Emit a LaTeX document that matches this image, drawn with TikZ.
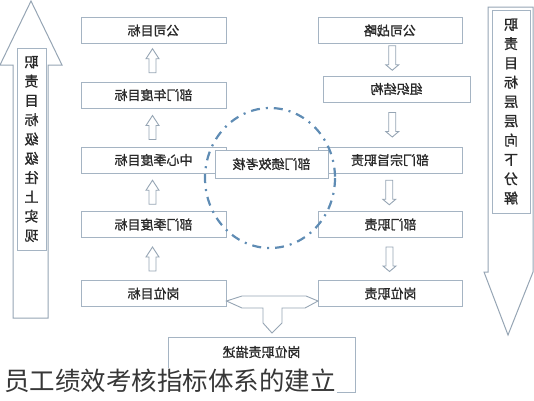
\documentclass[tikz,border=0pt]{standalone}
\usepackage{fontspec}
\usepackage{graphicx}
\newfontfamily\cjk{Noto Sans CJK SC}
\newfontfamily\cjkb[FakeBold=1.2]{Noto Sans CJK SC}
\usetikzlibrary{calc}
\definecolor{boxline}{RGB}{165,180,195}
\definecolor{arrline}{RGB}{150,165,180}
\definecolor{txt}{RGB}{40,40,40}
\definecolor{captxt}{RGB}{55,55,55}
\definecolor{ringblue}{RGB}{95,140,180}
\newcommand{\vstack}[1]{\reflectbox{\parbox{16pt}{\centering\fontsize{14}{19.3}\selectfont #1}}}
\begin{document}
\begin{tikzpicture}[x=1pt,y=-1pt,
  box/.style={draw=boxline, line width=1pt, fill=white, minimum height=26pt,
    inner sep=0pt, font=\cjkb\fontsize{13}{13}\selectfont, text=txt},
  lbox/.style={box, minimum width=145pt},
  rbox/.style={box, minimum width=144pt},
  bigarrow/.style={draw=arrline, line width=1pt, fill=white},
  vtext/.style={draw=boxline, line width=1pt, fill=white, inner sep=0pt,
    text=txt, font=\cjkb},
  blockarr/.style={draw=arrline, line width=0.9pt, fill=white},
  uparr/.pic={\draw[blockarr] (-3.5,12) -- (-3.5,-2) -- (-6.5,-2) -- (0,-12) -- (6.5,-2) -- (3.5,-2) -- (3.5,12) -- cycle;},
  downarr/.pic={\draw[blockarr] (-3.5,-12) -- (-3.5,7) -- (-6.5,7) -- (0,12.5) -- (6.5,7) -- (3.5,7) -- (3.5,-12) -- cycle;}
]
\useasboundingbox (0,0) rectangle (534,400);

% left big up arrow
\draw[bigarrow] (13,318) -- (13,65) -- (0,65) -- (31,1) -- (62,65) -- (48,65) -- (48,318) -- cycle;
\node[vtext, minimum width=29pt, minimum height=202pt] (lv) at (31.5,149) {\vstack{职\\责\\目\\标\\级\\级\\往\\上\\实\\现}};

% right big down arrow
\draw[bigarrow] (488,7) -- (488,272) -- (484,272) -- (508,335) -- (533,272) -- (533,7) -- cycle;
\node[vtext, minimum width=38pt, minimum height=203pt] (rv) at (511,111.5) {\vstack{职\\责\\目\\标\\层\\层\\向\\下\\分\\解}};

% left column
\node[lbox] (l1) at (153.5,30.5) {\reflectbox{公司目标}};
\node[lbox] (l2) at (153.5,95) {\reflectbox{部门年度目标}};
\node[lbox] (l3) at (153.5,160) {\reflectbox{中心季度目标}};
\node[lbox] (l4) at (153.5,224.5) {\reflectbox{部门季度目标}};
\node[lbox] (l5) at (153.5,293.5) {\reflectbox{岗位目标}};

% right column
\node[rbox] (r1) at (390,30.5) {\reflectbox{公司战略}};
\node[box, minimum width=147pt] (r2) at (396.5,89) {\reflectbox{组织结构}};
\node[rbox] (r3) at (390,160) {\reflectbox{部门宗旨职责}};
\node[rbox] (r4) at (390.5,224.5) {\reflectbox{部门职责}};
\node[rbox] (r5) at (390.5,293.5) {\reflectbox{岗位职责}};

% small arrows
\pic at ($(l2.north)!.5!(l1.south)+(-1,-2)$) {uparr};
\pic at ($(l3.north)!.5!(l2.south)+(-1,0)$) {uparr};
\pic at ($(l4.north)!.5!(l3.south)+(-1,0)$) {uparr};
\pic at ($(l5.north)!.5!(l4.south)+(-1,0)$) {uparr};
\pic at ($(r1.south)!.5!(r2.north)+(-1,-2)$) {downarr};
\pic at ($(r2.south)!.5!(r3.north)+(-1,0)$) {downarr};
\pic at ($(r3.south)!.5!(r4.north)+(-1,0)$) {downarr};
\pic at ($(r4.south)!.5!(r5.north)+(-1,0)$) {downarr};

% centre box
\node[box, minimum width=113pt, minimum height=28pt] (c) at (271.5,164) {\reflectbox{部门绩效考核}};

% bottom description box
\node[draw=boxline, line width=1pt, fill=white, minimum width=187pt, minimum height=55pt, anchor=north, inner sep=0pt] (desc) at (261.5,337) {};
\node[font=\cjkb\fontsize{13}{13}\selectfont, text=txt, inner sep=0pt] (desct) at ($(desc.north)+(0,15)$) {\reflectbox{岗位职责描述}};

% T connector
\draw[blockarr] ($(l5.east)+(0,7.5)$) -- (242,296) -- (306,296) -- ($(r5.west)+(0,7.5)$) -- (305,308) -- (282,308) -- (282,323) -- ($(desc.north)+(10.5,-4)$) -- (263,323) -- (263,308) -- (242,308) -- cycle;

% dash-dot ring
\draw[ringblue, line width=2.2pt, dash pattern=on 9pt off 6pt on 2pt off 6pt] (270,178) ellipse [x radius=65, y radius=70];

% caption
\node[anchor=west, inner sep=1pt, fill=white, font=\cjk\fontsize{25.5}{25.5}\selectfont, text=captxt] (cap) at (3,381) {员工绩效考核指标体系的建立};
\end{tikzpicture}
\end{document}
